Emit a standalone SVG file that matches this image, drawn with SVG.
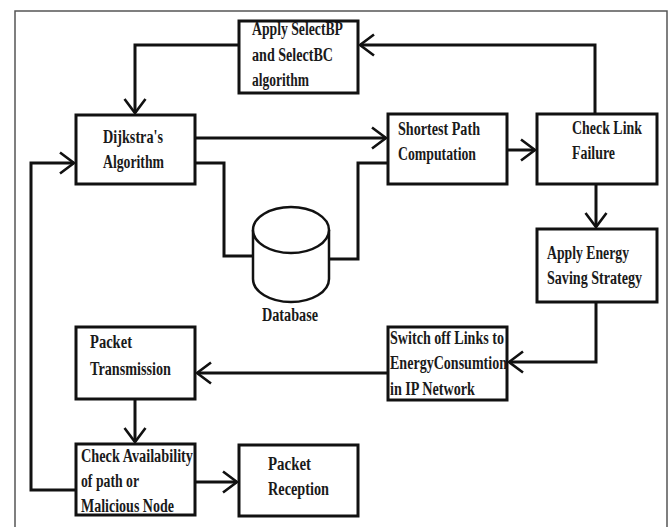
<svg xmlns="http://www.w3.org/2000/svg" width="672" height="527" viewBox="0 0 672 527">
<style>
.box{fill:#fff;stroke:#111;stroke-width:3}
.ln{fill:none;stroke:#111;stroke-width:3}
.t{font-family:"Liberation Serif","Times New Roman",serif;font-weight:bold;font-size:18px;fill:#1a1a1a}
</style>
<defs>
<marker id="ah" markerUnits="userSpaceOnUse" markerWidth="20" markerHeight="26" refX="16" refY="12" orient="auto">
<path d="M2,1.5 L16,12 L2,22.5" fill="none" stroke="#111" stroke-width="2.6"/>
</marker>
</defs>
<rect width="672" height="527" fill="#fff"/>
<rect x="15" y="11" width="652" height="530" fill="none" stroke="#555" stroke-width="1.5"/>
<g id="connectors">
<path class="ln" d="M195,138 H386" marker-end="url(#ah)"/>
<path class="ln" d="M507,150 H535" marker-end="url(#ah)"/>
<path class="ln" d="M595,114 V45 H360" marker-end="url(#ah)"/>
<path class="ln" d="M239,45 H135 V113" marker-end="url(#ah)"/>
<path class="ln" d="M195,163 H224 V256 H253"/>
<path class="ln" d="M388,163 H358 V259 H328"/>
<path class="ln" d="M596,184 V227" marker-end="url(#ah)"/>
<path class="ln" d="M596,302 V362 H509" marker-end="url(#ah)"/>
<path class="ln" d="M388,373 H197" marker-end="url(#ah)"/>
<path class="ln" d="M135,399 V442" marker-end="url(#ah)"/>
<path class="ln" d="M195,482 H237" marker-end="url(#ah)"/>
<path class="ln" d="M76,490 H31 V163 H74" marker-end="url(#ah)"/>
</g>
<g id="dijkstra">
<rect class="box" x="76" y="115" width="119" height="69"/>
<text class="t" x="103" y="143" textLength="60" lengthAdjust="spacingAndGlyphs">Dijkstra's</text>
<text class="t" x="103" y="168" textLength="61" lengthAdjust="spacingAndGlyphs">Algorithm</text>
</g>
<g id="selectbp">
<rect class="box" x="239" y="21" width="119" height="72"/>
<text class="t" x="252" y="35" textLength="91" lengthAdjust="spacingAndGlyphs">Apply SelectBP</text>
<text class="t" x="252" y="61" textLength="81" lengthAdjust="spacingAndGlyphs">and SelectBC</text>
<text class="t" x="252" y="86" textLength="57" lengthAdjust="spacingAndGlyphs">algorithm</text>
</g>
<g id="shortest">
<rect class="box" x="388" y="114" width="119" height="70"/>
<text class="t" x="398" y="135" textLength="82" lengthAdjust="spacingAndGlyphs">Shortest Path</text>
<text class="t" x="398" y="160" textLength="78" lengthAdjust="spacingAndGlyphs">Computation</text>
</g>
<g id="checklink">
<rect class="box" x="537" y="114" width="120" height="70"/>
<text class="t" x="572" y="134" textLength="70" lengthAdjust="spacingAndGlyphs">Check Link</text>
<text class="t" x="572" y="159" textLength="43" lengthAdjust="spacingAndGlyphs">Failure</text>
</g>
<g id="database">
<path d="M253,230 V279 A38,23 0 0 0 329,279 V230" fill="#fff" stroke="#111" stroke-width="2.5"/>
<ellipse cx="291" cy="230" rx="38" ry="23" fill="#fff" stroke="#111" stroke-width="2.5"/>
<text class="t" x="262" y="321" textLength="56" lengthAdjust="spacingAndGlyphs">Database</text>
</g>
<g id="energy">
<rect class="box" x="537" y="229" width="120" height="73"/>
<text class="t" x="547" y="259" textLength="82" lengthAdjust="spacingAndGlyphs">Apply Energy</text>
<text class="t" x="547" y="284" textLength="95" lengthAdjust="spacingAndGlyphs">Saving Strategy</text>
</g>
<g id="switchoff">
<rect class="box" x="388" y="327" width="119" height="73"/>
<text class="t" x="390" y="344" textLength="114" lengthAdjust="spacingAndGlyphs">Switch off Links to</text>
<text class="t" x="390" y="369" textLength="117" lengthAdjust="spacingAndGlyphs">EnergyConsumtion</text>
<text class="t" x="390" y="395" textLength="85" lengthAdjust="spacingAndGlyphs">in IP Network</text>
</g>
<g id="transmission">
<rect class="box" x="76" y="327" width="119" height="72"/>
<text class="t" x="90" y="348" textLength="42" lengthAdjust="spacingAndGlyphs">Packet</text>
<text class="t" x="90" y="375" textLength="81" lengthAdjust="spacingAndGlyphs">Transmission</text>
</g>
<g id="availability">
<rect class="box" x="76" y="444" width="119" height="71"/>
<text class="t" x="81" y="462" textLength="112" lengthAdjust="spacingAndGlyphs">Check Availability</text>
<text class="t" x="81" y="487" textLength="58" lengthAdjust="spacingAndGlyphs">of path or</text>
<text class="t" x="81" y="512" textLength="93" lengthAdjust="spacingAndGlyphs">Malicious Node</text>
</g>
<g id="reception">
<rect class="box" x="239" y="445" width="119" height="71"/>
<text class="t" x="268" y="470" textLength="43" lengthAdjust="spacingAndGlyphs">Packet</text>
<text class="t" x="268" y="495" textLength="61" lengthAdjust="spacingAndGlyphs">Reception</text>
</g>
</svg>
